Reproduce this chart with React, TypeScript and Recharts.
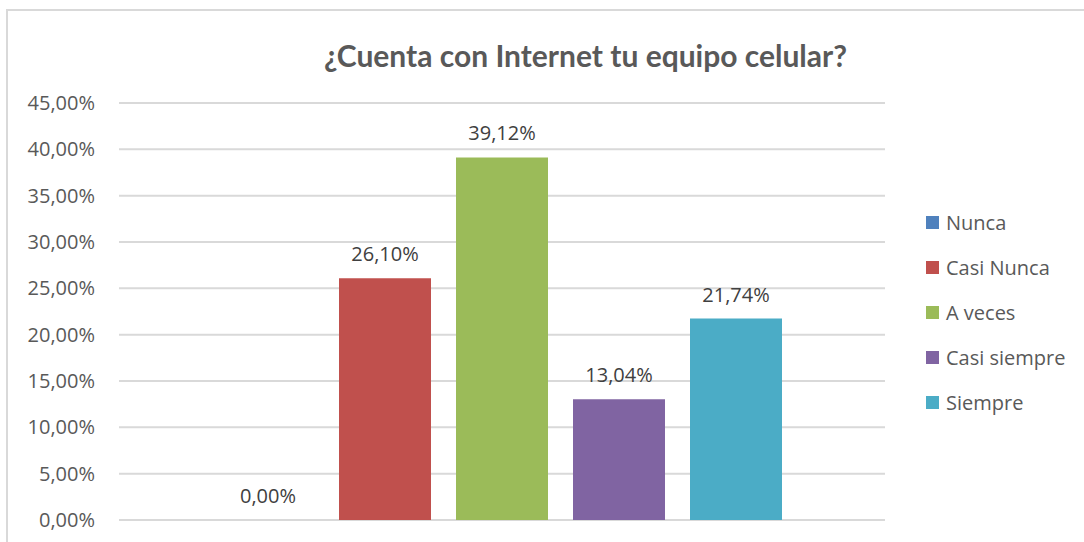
import React from 'react';
import { BarChart, Bar, XAxis, YAxis, CartesianGrid, Legend, LabelList } from 'recharts';

const categories = ['Respuesta'];
const seriesNames = ['Nunca', 'Casi Nunca', 'A veces', 'Casi siempre', 'Siempre'];
const seriesValues = [0, 0.261, 0.3912, 0.1304, 0.2174];
const seriesColors = ['#4F81BD', '#C0504D', '#9BBB59', '#8064A2', '#4BACC6'];
const yTicks = [0, 0.05, 0.1, 0.15, 0.2, 0.25, 0.3, 0.35, 0.4, 0.45];
const title = '¿Cuenta con Internet tu equipo celular?';

const data = categories.map((c) => {
  const row: Record<string, any> = { name: c };
  seriesNames.forEach((s, i) => {
    row[s] = seriesValues[i];
  });
  return row;
});

const fmt = (v: number) => (v * 100).toFixed(2).replace('.', ',') + '%';

const FONT = '"Open Sans", sans-serif';

const LegendContent = () => (
  <div style={{ fontFamily: FONT, fontSize: 20, color: '#595959' }}>
    {seriesNames.map((s, i) => (
      <div key={s} style={{ display: 'flex', alignItems: 'center', height: 45 }}>
        <span style={{ display: 'inline-block', width: 13, height: 13, background: seriesColors[i], marginRight: 7 }} />
        <span>{s}</span>
      </div>
    ))}
  </div>
);

const ValueLabel = (props: any) => {
  const { x, y, width, value } = props;
  if (x == null || y == null) return null;
  return (
    <text
      x={Number(x) + Number(width) / 2}
      y={Number(y) - 17}
      textAnchor="middle"
      fill="#404040"
      fontSize={20}
      fontFamily={FONT}
    >
      {fmt(Number(value))}
    </text>
  );
};

export default function App() {
  return (
    <div style={{ position: 'absolute', left: 0, top: 0, width: 1084, height: 542, overflow: 'hidden', background: '#fff' }}>
      <div
        style={{
          position: 'absolute',
          left: 6,
          top: 9,
          width: 1200,
          height: 700,
          borderTop: '2px solid #d9d9d9',
          borderLeft: '2px solid #d9d9d9',
        }}
      />
      <div
        style={{
          position: 'absolute',
          left: 0,
          top: 36,
          width: 1171,
          textAlign: 'center',
          fontFamily: 'Lato, sans-serif',
          fontWeight: 700,
          fontSize: 30,
          color: '#595959',
          lineHeight: '38px',
        }}
      >
        {title}
      </div>
      <div style={{ position: 'absolute', left: 0, top: 0 }}>
        <BarChart
          width={1084}
          height={542}
          data={data}
          margin={{ top: 103, right: 39, bottom: 22, left: 0 }}
          barSize={92}
          barGap={25}
        >
          <CartesianGrid vertical={false} stroke="#d9d9d9" strokeWidth={2} />
          <XAxis dataKey="name" hide />
          <YAxis
            width={119}
            domain={[0, 0.45]}
            ticks={yTicks}
            tickFormatter={fmt}
            axisLine={false}
            tickLine={false}
            tickSize={0}
            tickMargin={24}
            interval={0}
            tick={{ fill: '#595959', fontSize: 20, fontFamily: FONT }}
          />
          <Legend
            layout="vertical"
            align="right"
            verticalAlign="top"
            wrapperStyle={{ left: 926, top: 200, width: 160 }}
            content={<LegendContent />}
          />
          {seriesNames.map((s, i) => (
            <Bar key={s} dataKey={s} fill={seriesColors[i]} minPointSize={0.01} isAnimationActive={false}>
              <LabelList dataKey={s} content={<ValueLabel />} />
            </Bar>
          ))}
        </BarChart>
      </div>
    </div>
  );
}
